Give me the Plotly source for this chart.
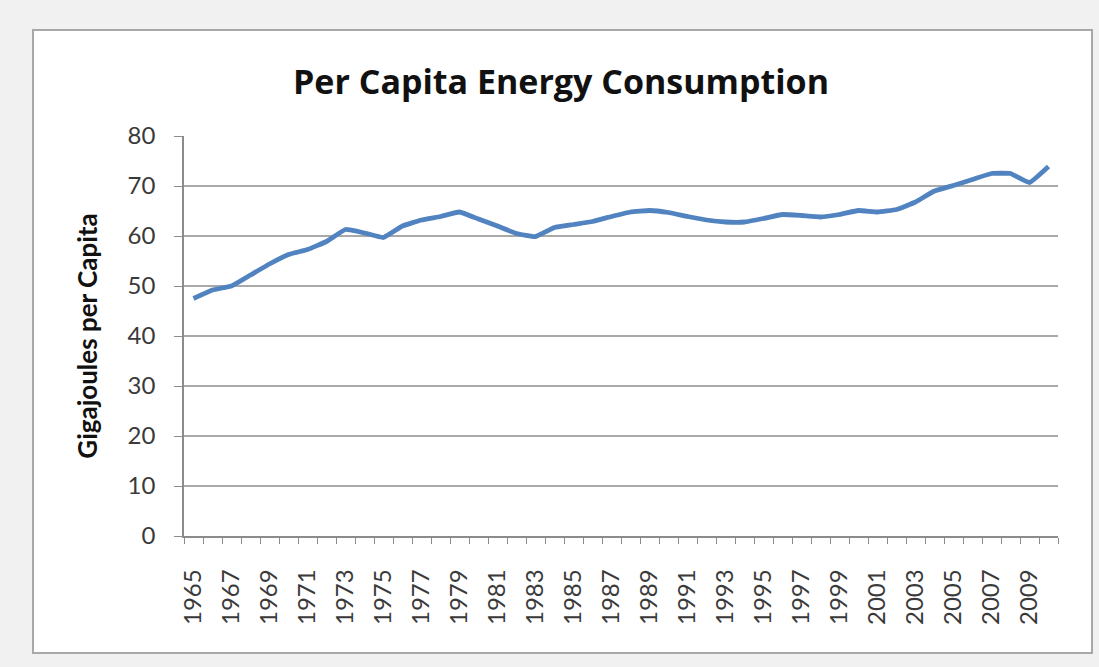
import plotly.graph_objects as go

years = list(range(1965, 2011))
consumption = [47.5, 49.2, 50.0, 52.2, 54.4, 56.3, 57.3, 58.9, 61.3, 60.6,
               59.7, 62.0, 63.2, 63.9, 64.8, 63.4, 62.0, 60.5, 59.9, 61.7,
               62.3, 62.9, 63.9, 64.8, 65.1, 64.7, 63.9, 63.2, 62.8, 62.8,
               63.5, 64.3, 64.1, 63.8, 64.3, 65.1, 64.8, 65.3, 66.8, 69.0,
               70.1, 71.3, 72.5, 72.5, 70.7, 73.9]
label_years = [y for y in years if (y - 1965) % 2 == 0]
y_ticks = [0, 10, 20, 30, 40, 50, 60, 70, 80]

title_text = "Per Capita Energy Consumption"
y_title = "Gigajoules per Capita"

fig = go.Figure()
fig.add_trace(go.Scatter(
    x=years, y=consumption, mode="lines",
    line=dict(color="#5083bf", width=4.8, shape="spline", smoothing=0.3),
    hoverinfo="x+y", showlegend=False,
))

L, R, T, B = 184, 41, 136, 131
W, H = 1099, 667
pw, ph = W - L - R, H - T - B
bx0 = (33 - L) / pw
bx1 = (1092 - L) / pw
by1 = (H - B - 30) / ph
by0 = (H - B - 653) / ph

fig.update_layout(
    width=W, height=H,
    margin=dict(l=L, r=R, t=T, b=B),
    paper_bgcolor="#f1f1f1",
    plot_bgcolor="white",
    title=dict(text=title_text, x=561 / W, xanchor="center",
               y=1 - 82 / H, yanchor="middle",
               font=dict(family="Open Sans", size=34, color="#111111", weight="bold")),
    shapes=[dict(type="rect", xref="paper", yref="paper",
                 x0=bx0, x1=bx1, y0=by0, y1=by1,
                 fillcolor="white", line=dict(color="#a8a8a8", width=2),
                 layer="below")],
    xaxis=dict(
        range=[1964.5, 2010.5],
        tickmode="array", tickvals=label_years,
        ticktext=[str(y) for y in label_years],
        tickangle=-90, ticks="outside", ticklen=22, tickcolor="rgba(0,0,0,0)",
        tickfont=dict(family="Lato", size=24, color="#3a3a3a"),
        showgrid=False, showline=True, linecolor="#8c8c8c", linewidth=1.5,
        zeroline=False,
        minor=dict(ticks="outside", tick0=1964.5, dtick=1, ticklen=6,
                   tickcolor="#8c8c8c", tickwidth=1.2, showgrid=False),
        fixedrange=True,
    ),
    yaxis=dict(
        range=[0, 80], tickmode="array", tickvals=y_ticks,
        ticks="outside", ticklen=8, tickcolor="#8c8c8c", tickwidth=1.2,
        ticklabelstandoff=14,
        tickfont=dict(family="Lato", size=24, color="#3a3a3a"),
        showgrid=True, gridcolor="#a9a9a9", gridwidth=1.5,
        showline=True, linecolor="#8c8c8c", linewidth=1.5,
        zeroline=False,
        title=dict(text=y_title, standoff=23,
                   font=dict(family="Lato", size=26, color="#111111", weight="bold")),
        fixedrange=True,
    ),
)

fig.write_html(
    "out.html",
    config={"displayModeBar": False},
    post_script="document.body.style.margin='0';document.body.style.background='#f1f1f1';",
)
